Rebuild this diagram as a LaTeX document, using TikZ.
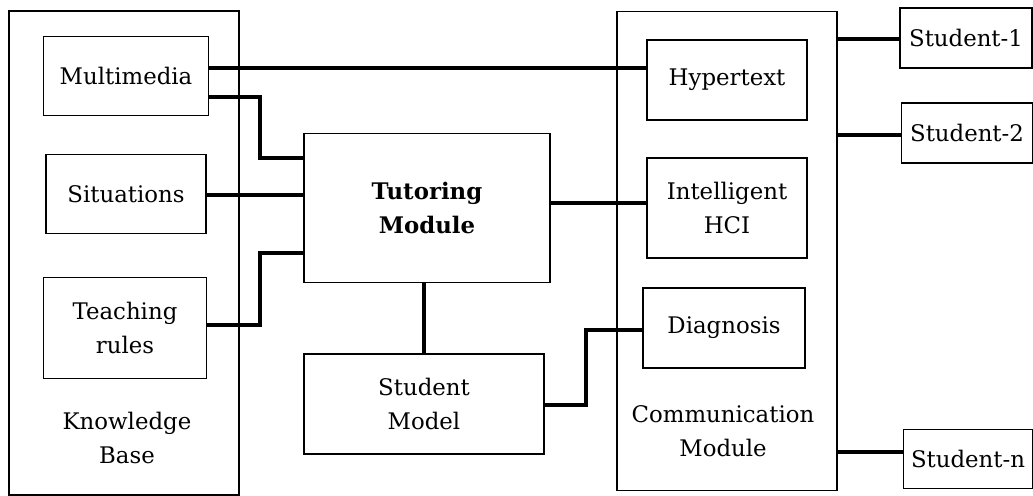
\documentclass[tikz,border=0pt]{standalone}
\usepackage{fontspec}
\setmainfont{DejaVu Serif}
\usepackage{tikz}
\usetikzlibrary{positioning}

\begin{document}
\begin{tikzpicture}[
        x=0.02cm, y=-0.02cm,
        every node/.style = {
        font=\fontsize{13}{19}\selectfont, align=center, inner sep=0pt
        },
        box/.style = {draw, line width=0.7pt},
        link/.style = {line width=2.4pt},
        thinlink/.style = {line width=1.9pt}
        ]
        \useasboundingbox (0,0) rectangle (1033,496);

        % knowledge base
        \node[box, minimum width=230*0.02cm, minimum height=484*0.02cm] (kb) at (124,253) {};
        \node[box, minimum width=165*0.02cm, minimum height=79*0.02cm] (multimedia) at (126,76) {Multimedia};
        \node[box, minimum width=160*0.02cm, minimum height=79*0.02cm] (situations) at (126,194) {Situations};
        \node[box, minimum width=163*0.02cm, minimum height=101*0.02cm] (teaching) at (125,328) {Teaching\\rules};
        \node (kblabel) at (127,438) {Knowledge\\Base};

        % tutoring and student model
        \node[box, minimum width=246*0.02cm, minimum height=149*0.02cm] (tutor) at (427,208) {\textbf{Tutoring}\\\textbf{Module}};
        \node[box, minimum width=240*0.02cm, minimum height=100*0.02cm] (smodel) at (424,404) {Student\\Model};

        % communication module
        \node[box, minimum width=220*0.02cm, minimum height=479*0.02cm] (cm) at (727,251) {};
        \node[box, minimum width=160*0.02cm, minimum height=80*0.02cm] (hyper) at (727,80) {Hypertext};
        \node[box, minimum width=160*0.02cm, minimum height=100*0.02cm] (hci) at (727,208) {Intelligent\\HCI};
        \node[box, minimum width=162*0.02cm, minimum height=80*0.02cm] (diag) at (724,328) {Diagnosis};
        \node (cmlabel) at (723,431) {Communication\\Module};

        % students
        \node[box, minimum width=132*0.02cm, minimum height=60*0.02cm] (s1) at (966,38) {Student-1};
        \node[box, minimum width=131*0.02cm, minimum height=60*0.02cm] (s2) at (967,133) {Student-2};
        \node[box, minimum width=129*0.02cm, minimum height=59*0.02cm] (sn) at (968,459) {Student-n};

        \coordinate (kbbus) at (260,0);
        \coordinate (smbus) at (586,0);

        \draw[link] (multimedia.east |- 0,68) -- (hyper.west |- 0,68);
        \draw[thinlink] (multimedia.east |- 0,97) -| (kbbus |- 0,158) -- (tutor.west |- 0,158);
        \draw[link] (situations.east |- 0,195) -- (tutor.west |- 0,195);
        \draw[thinlink] (teaching.east |- 0,325) -| (kbbus |- 0,253) -- (tutor.west |- 0,253);
        \draw[link] (tutor.east |- 0,203) -- (hci.west |- 0,203);
        \draw[thinlink] (smodel.north |- tutor.south) -- (smodel.north);
        \draw[thinlink] (smodel.east |- 0,405) -| (smbus |- 0,330) -- (diag.west |- 0,330);

        \draw[thinlink] (cm.east |- 0,39) -- (s1.west |- 0,39);
        \draw[link] (cm.east |- 0,135) -- (s2.west |- 0,135);
        \draw[link] (cm.east |- 0,452) -- (sn.west |- 0,452);
    \end{tikzpicture}
\end{document}
